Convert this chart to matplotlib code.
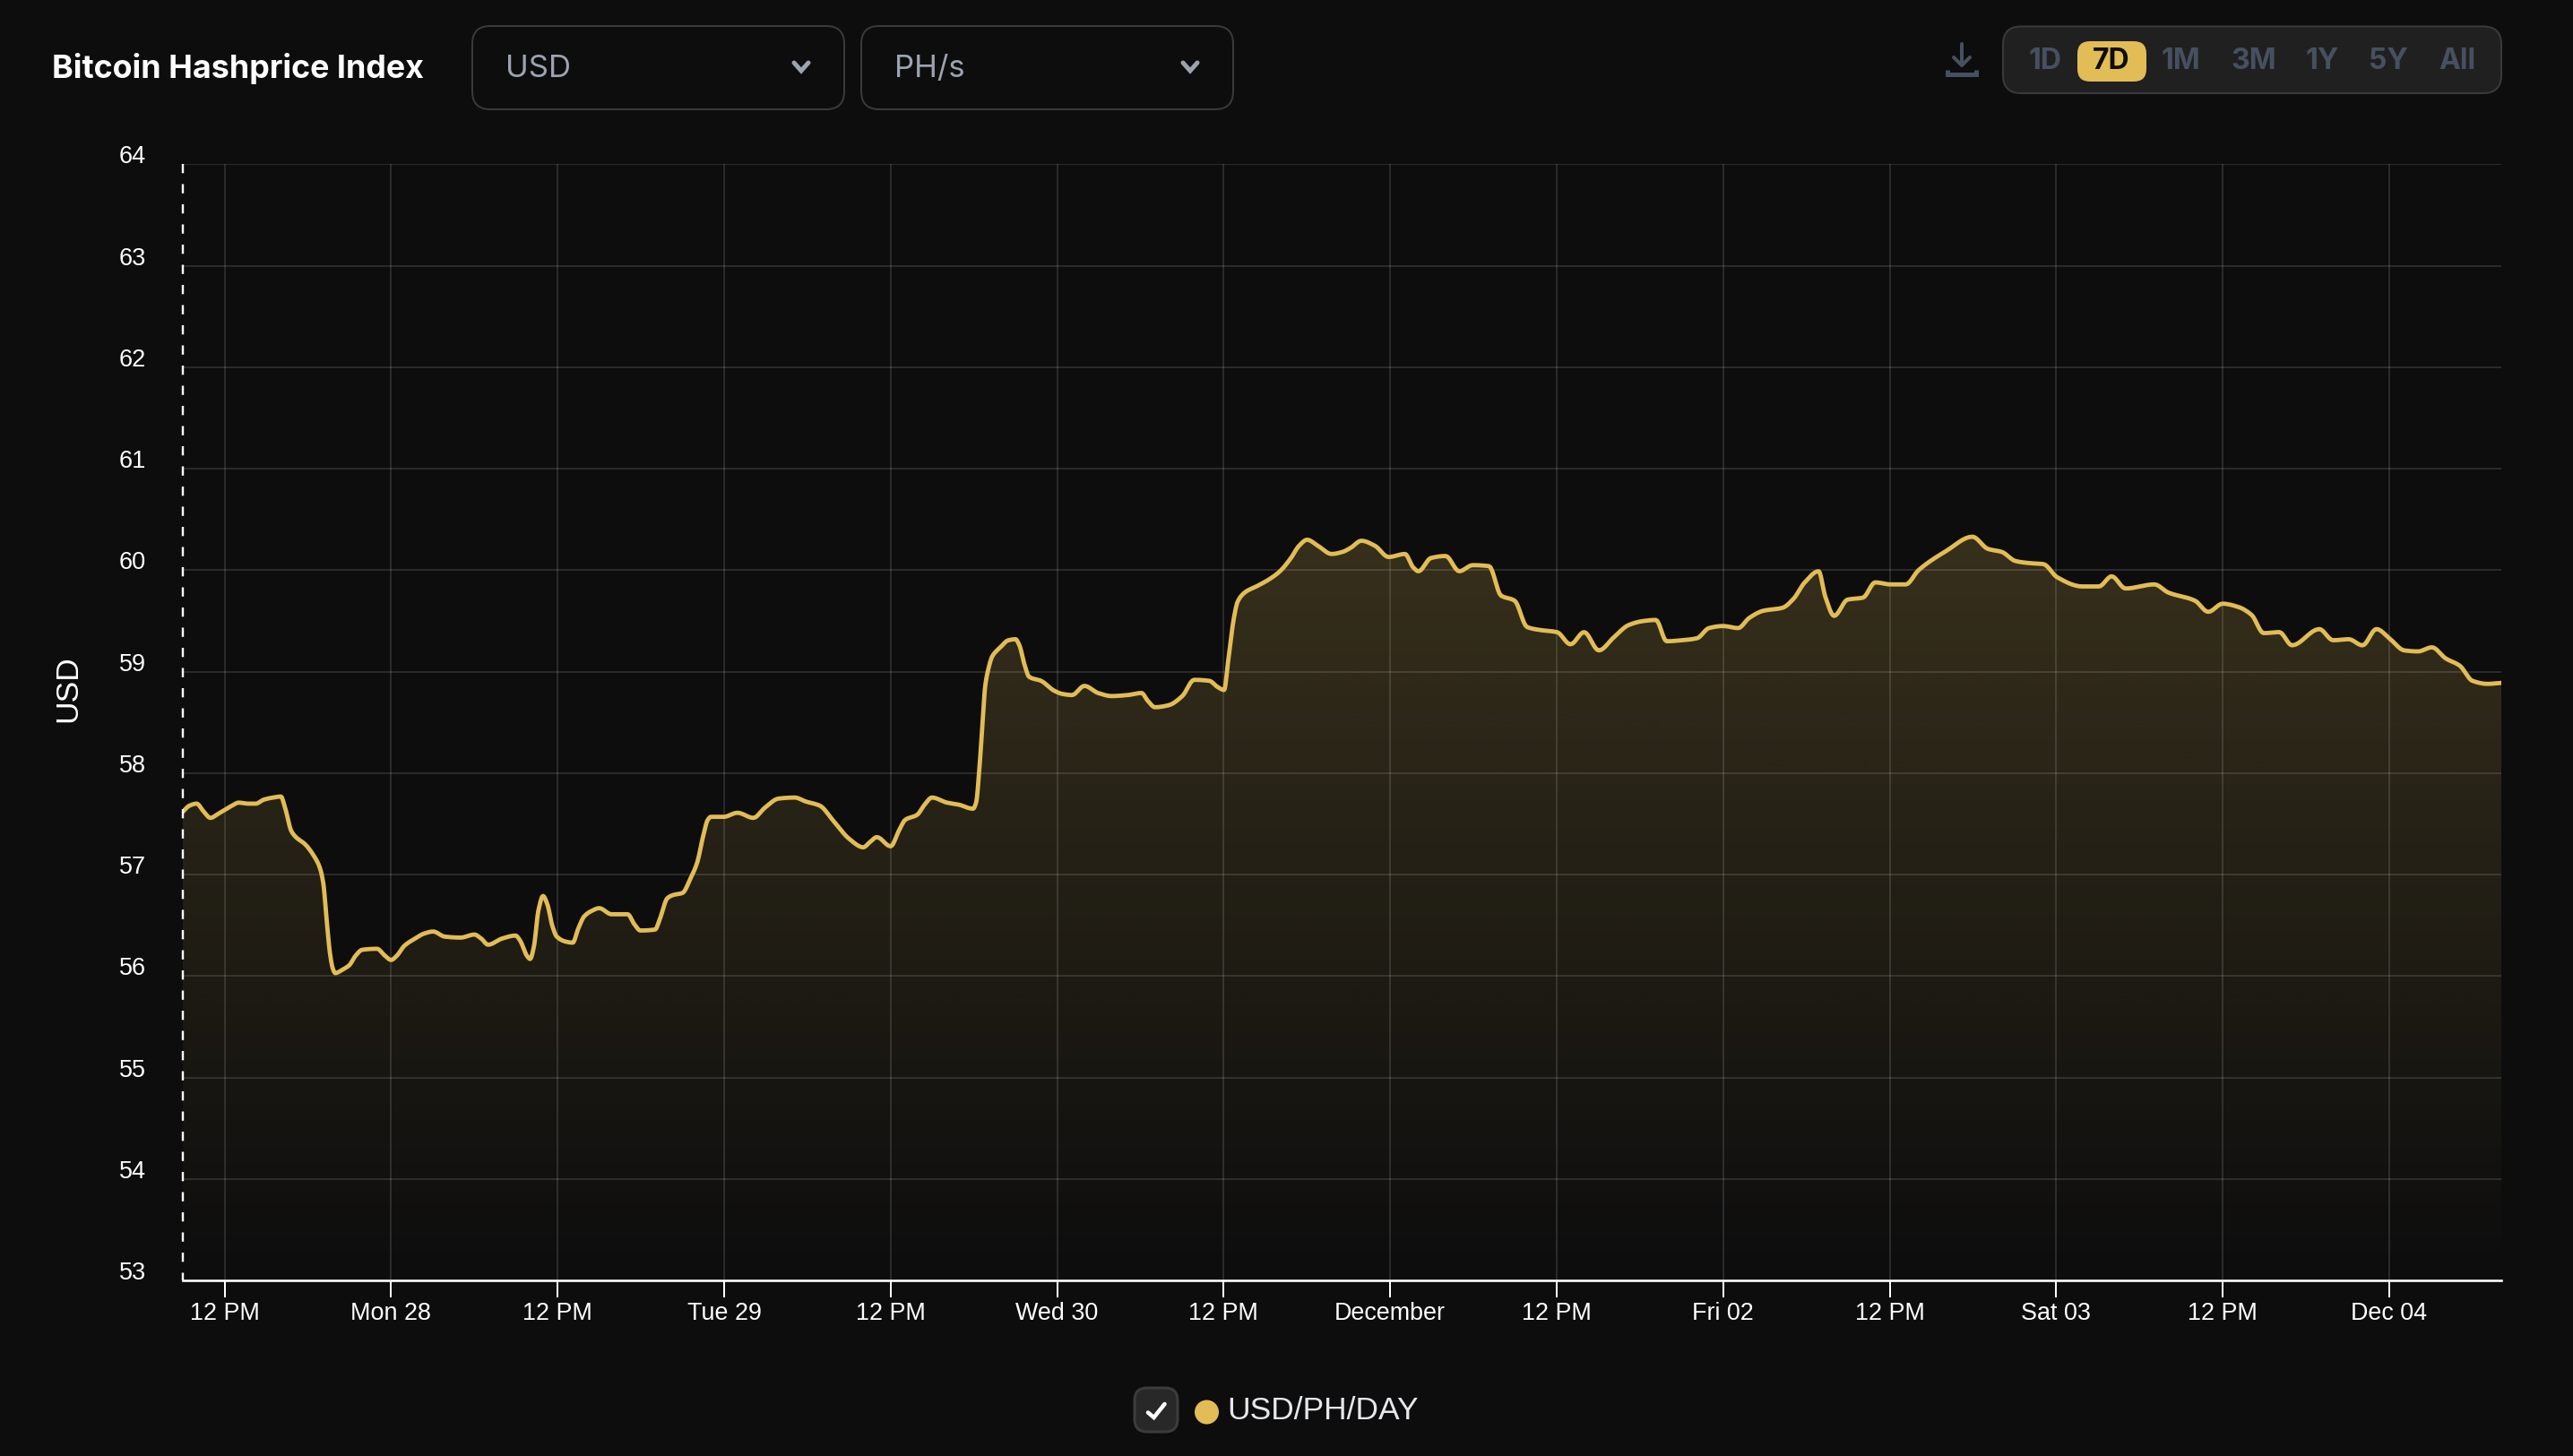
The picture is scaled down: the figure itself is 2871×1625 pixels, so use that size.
import numpy as np
import matplotlib
matplotlib.use("Agg")
import matplotlib.pyplot as plt
from matplotlib.patches import FancyBboxPatch, Circle
from matplotlib.transforms import ScaledTranslation

# hours counted from Mon-27-Nov 00:00
hours = [8.99,9.46,9.99,10.45,10.98,11.54,12.03,12.53,13.02,13.68,14.24,14.84,15.49,16.06,16.32,16.81,17.14,17.80,18.46,18.86,19.12,19.35,19.62,19.81,19.98,20.44,21.00,21.43,21.92,22.98,23.57,24.00,24.40,24.96,25.72,26.38,27.03,27.86,29.01,30.00,30.50,30.99,31.98,32.97,33.30,33.79,34.02,34.29,34.62,34.95,35.28,35.61,35.94,36.60,37.09,37.49,37.92,38.41,39.00,39.89,41.05,41.54,41.97,43.03,43.36,43.92,44.34,45.00,45.60,46.06,46.49,46.82,47.05,47.97,48.96,50.11,50.94,51.93,53.08,53.91,54.90,55.88,57.04,58.03,58.5,59.01,60.0,60.62,61.05,61.91,62.45,62.98,64.06,64.91,65.94,66.16,66.42,66.67,66.81,67.05,67.32,67.91,68.49,69.00,69.28,69.67,69.98,70.84,71.82,72.41,73.07,73.97,74.95,75.93,77.10,78.08,78.55,79.06,80.04,81.02,81.88,82.97,83.56,84.03,84.34,84.74,85.01,85.52,86.50,87.28,88.06,88.85,89.43,90.02,90.80,91.78,92.56,93.15,93.93,94.91,95.89,97.07,97.65,98.04,98.94,100.0,100.98,101.96,103.13,103.99,104.97,105.87,106.85,108.02,109.0,109.98,111.04,112.13,113.19,114.28,115.15,115.93,117.03,118.12,118.98,120.0,121.08,121.88,122.88,124.28,125.08,125.88,126.88,127.36,128.0,128.96,130.08,130.96,132.08,133.16,134.08,136.08,137.96,139.08,140.08,141.08,142.08,143.08,144.08,145.88,147.08,148.0,149.0,151.08,152.08,154.0,154.96,156.0,157.08,158.08,158.96,160.08,161.0,162.96,163.96,165.08,166.08,167.08,168.08,169.08,170.08,171.08,172.08,173.08,174.0,175.08,176.08]
usd = [57.62,57.68,57.70,57.63,57.56,57.60,57.64,57.68,57.71,57.70,57.70,57.74,57.76,57.77,57.68,57.43,57.37,57.30,57.18,57.07,56.91,56.56,56.20,56.07,56.03,56.06,56.11,56.20,56.26,56.27,56.20,56.16,56.20,56.30,56.37,56.42,56.44,56.39,56.38,56.41,56.37,56.31,56.37,56.40,56.35,56.20,56.17,56.29,56.65,56.79,56.70,56.50,56.39,56.34,56.33,56.47,56.59,56.64,56.67,56.61,56.61,56.51,56.45,56.46,56.56,56.77,56.80,56.82,56.97,57.12,57.38,57.54,57.57,57.57,57.61,57.56,57.66,57.75,57.76,57.72,57.68,57.53,57.35,57.27,57.32,57.37,57.28,57.44,57.54,57.59,57.69,57.76,57.71,57.69,57.65,57.71,58.09,58.59,58.85,59.03,59.15,59.24,59.31,59.32,59.26,59.06,58.95,58.91,58.81,58.78,58.77,58.86,58.79,58.76,58.77,58.79,58.71,58.65,58.67,58.76,58.92,58.91,58.85,58.82,59.12,59.53,59.69,59.78,59.85,59.91,59.99,60.12,60.24,60.30,60.24,60.16,60.18,60.22,60.29,60.24,60.13,60.16,60.03,59.99,60.12,60.14,59.99,60.05,60.04,59.75,59.70,59.44,59.41,59.39,59.27,59.39,59.21,59.34,59.46,59.50,59.51,59.30,59.31,59.33,59.43,59.45,59.43,59.53,59.60,59.63,59.72,59.88,59.99,59.74,59.55,59.71,59.73,59.88,59.86,59.86,60.00,60.19,60.33,60.21,60.18,60.09,60.07,60.06,59.93,59.84,59.84,59.94,59.82,59.86,59.78,59.70,59.59,59.67,59.64,59.56,59.38,59.39,59.26,59.42,59.31,59.32,59.26,59.42,59.32,59.21,59.20,59.24,59.13,59.06,58.91,58.88,58.89]

x_ticks = [12,24,36,48,60,72,84,96,108,120,132,144,156,168]
x_labels = ['12 PM','Mon 28','12 PM','Tue 29','12 PM','Wed 30','12 PM','December','12 PM','Fri 02','12 PM','Sat 03','12 PM','Dec 04']
y_ticks = list(range(53,65))
ranges = ['1D','7D','1M','3M','1Y','5Y','All']

W,H = 2871,1625
BG = '#0d0d0e'; GOLD = '#e2bc55'
px = 0.72  # points per pixel at dpi 100
plt.rcParams['font.family'] = ['Liberation Sans','DejaVu Sans']
plt.rcParams['lines.solid_capstyle'] = 'round'

def monotone_curve(x, y, sub=8):
    """The line's curve style: monotone cubic through every read value."""
    x = np.asarray(x, float); y = np.asarray(y, float)
    h = np.diff(x); s = np.diff(y)/h
    m = np.zeros_like(y)
    m[0], m[-1] = s[0], s[-1]
    for i in range(1, len(x)-1):
        if s[i-1]*s[i] > 0:
            w1, w2 = 2*h[i]+h[i-1], h[i]+2*h[i-1]
            m[i] = (w1+w2)/(w1/s[i-1]+w2/s[i])
    xs, ys = [], []
    t = np.linspace(0, 1, sub, endpoint=False)
    for i in range(len(h)):
        a = 2*t**3-3*t**2+1; b = t**3-2*t**2+t; c = -2*t**3+3*t**2; d = t**3-t**2
        xs.append(x[i]+t*h[i])
        ys.append(a*y[i]+b*h[i]*m[i]+c*y[i+1]+d*h[i]*m[i+1])
    return np.r_[np.concatenate(xs), x[-1]], np.r_[np.concatenate(ys), y[-1]]

curve_x, curve_y = monotone_curve(hours, usd)

fig = plt.figure(figsize=(W/100,H/100),dpi=100,facecolor=BG)
L,R,T,B = 204,2791,183.3,1429.3
ax = fig.add_axes([L/W,1-B/H,(R-L)/W,(B-T)/H],facecolor=BG)
ax.set_xlim(8.99,176.08); ax.set_ylim(53,64)

# gradient area
poly = ax.fill_between(curve_x,curve_y,53,color='none',lw=0)
ramp = np.zeros((256,1,4))
ramp[...,:3] = matplotlib.colors.to_rgb(GOLD)
top = max(usd)
ramp[:,0,3] = np.linspace(0.20,0,256)
im = ax.imshow(ramp,extent=(8.99,176.08,53,top),aspect='auto',origin='upper',zorder=1,interpolation='bilinear')
im.set_clip_path(poly.get_paths()[0],transform=ax.transData)
ax.set_xlim(8.99,176.08); ax.set_ylim(53,64)

# grid
ax.set_xticks(x_ticks); ax.set_xticklabels(x_labels)
ax.set_yticks(y_ticks); ax.set_yticklabels([str(v) for v in y_ticks])
ax.grid(True,color='white',alpha=0.12,lw=2*px,zorder=2)
ax.set_axisbelow(False)
ax.plot(curve_x,curve_y,color=GOLD,lw=4.8*px,solid_joinstyle='round',zorder=4)

for s in ['top','right']: ax.spines[s].set_visible(False)
ax.spines['bottom'].set_color('white'); ax.spines['bottom'].set_linewidth(2.6*px)
ax.spines['left'].set_visible(False)
ax.plot([8.99,8.99],[64,53],color='white',lw=2.4*px,clip_on=False,zorder=5,
        linestyle=(0,(10.3*px/(2.4*px),12.2*px/(2.4*px))),dash_capstyle='butt')
ax.tick_params(axis='x',length=19*px,width=2*px,color='white',labelcolor='white',labelsize=19.4,pad=5*px)
ax.tick_params(axis='y',length=0,labelcolor='white',labelsize=19.5,pad=41*px)
offset = ScaledTranslation(0,11/100,fig.dpi_scale_trans)
for t in ax.yaxis.get_major_ticks():
    t.label1.set_transform(t.label1.get_transform()+offset)
ax.set_ylabel('USD',color='white',fontsize=25.5,rotation=90,va='center',ha='center')
ax.yaxis.set_label_coords((75.5-L)/(R-L),(B-769)/(B-T))

# page furniture in pixel coordinates
ui = fig.add_axes([0,0,1,1]); ui.set_xlim(0,W); ui.set_ylim(H,0); ui.axis('off'); ui.patch.set_alpha(0)
def box(x0,y0,x1,y1,r,fc,ec,lw=2):
    ui.add_patch(FancyBboxPatch((x0+r,y0+r),x1-x0-2*r,y1-y0-2*r,boxstyle=f'round,pad={r},rounding_size={r}',
                                fc=fc,ec=ec,lw=lw*px,mutation_aspect=1))
INTER = ['Inter','DejaVu Sans']
ui.text(58,76.5,'Bitcoin Hashprice Index',color='white',fontsize=25.8,fontweight='bold',family=INTER,va='center',ha='left')
for (x0,x1,lab) in [(527,942,'USD'),(961,1376,'PH/s')]:
    box(x0,29,x1,122,20,BG,'#3a3a3c')
    ui.text(x0+37,77,lab,color='#9ca3af',fontsize=25,family=INTER,va='center',ha='left')
    cx=x1-48
    ui.plot([cx-8,cx,cx+8],[70,79,70],color='#9ca3af',lw=5*px,solid_capstyle='round',solid_joinstyle='miter')
box(2235,29.5,2791,104,20,'#202021','#3a3a3c')
box(2318,46,2395,91,14,GOLD,'none',0)
for cx,lab in zip([2282,2356,2433,2514.5,2591.6,2665,2741.6],ranges):
    ui.text(cx,68.5,lab,color='#0d0d0e' if lab=='7D' else '#475060',fontsize=23,fontweight='bold',family=INTER,va='center',ha='center')
# download icon
ic='#475060'
ui.plot([2189,2189],[49,72],color=ic,lw=4*px)
ui.plot([2180,2189,2198],[64,73,64],color=ic,lw=4*px,solid_joinstyle='round')
ui.plot([2173,2173,2205,2205],[78,83,83,78],color=ic,lw=5*px,solid_capstyle='butt',solid_joinstyle='miter')
# legend
box(1266,1549,1314,1598,14,'#282829','#3c3c3e',3)
ui.plot([1281,1287.5,1299.5],[1576.5,1582,1567],color='white',lw=4.5*px,solid_joinstyle='miter')
ui.add_patch(Circle((1346.5,1576),13.5,fc=GOLD,ec='none'))
ui.text(1369,1575,'USD/PH/DAY',color='#e5e7eb',fontsize=25.5,family=['Liberation Sans'],va='center',ha='left')

fig.savefig('out.png',dpi=100,facecolor=BG)
